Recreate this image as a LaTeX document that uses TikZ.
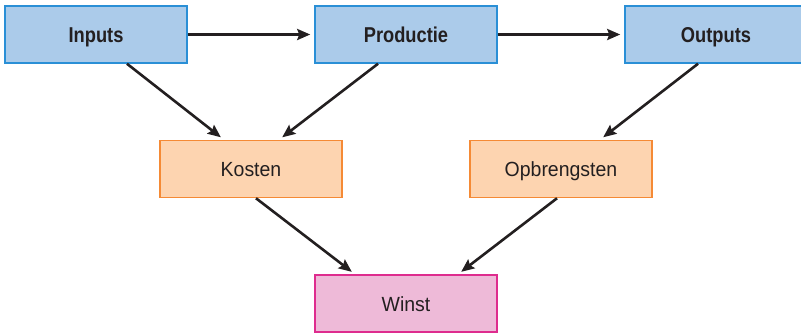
\documentclass[tikz,border=0pt]{standalone}
\usepackage{fontspec}
\setmainfont{Liberation Sans}
\newfontfamily\narrowbold{Liberation Sans}[FakeStretch=0.85]
\newfontfamily\narrowreg{Liberation Sans}[FakeStretch=0.95]
\usetikzlibrary{arrows.meta}
\definecolor{bluefill}{HTML}{ABCBEA}
\definecolor{blueline}{HTML}{2A8FD6}
\definecolor{orfill}{HTML}{FDD4B0}
\definecolor{orline}{HTML}{F58A35}
\definecolor{pkfill}{HTML}{EEBAD8}
\definecolor{pkline}{HTML}{DE2C8E}
\definecolor{txt}{HTML}{231F20}
\tikzset{
  box/.style={draw, line width=1.5pt, minimum width=182pt, minimum height=57pt,
    inner sep=0pt, text height=15pt, text depth=0pt, text=txt, font=\narrowreg\fontsize{20.5}{24}\selectfont},
  bluebox/.style={box, fill=bluefill, draw=blueline, font=\narrowbold\bfseries\fontsize{21.5}{24}\selectfont},
  orbox/.style={box, fill=orfill, draw=orline},
  pkbox/.style={box, fill=pkfill, draw=pkline},
  conn/.style={draw=txt, line width=2.6pt, shorten >=4pt, -{Stealth[length=13pt,width=11pt,inset=2pt]}}
}
\begin{document}
\begin{tikzpicture}[x=1pt,y=-1pt]
\clip (0,0) rectangle (801,333);
\node[bluebox] (inp) at (96,34.5) {Inputs};
\node[bluebox] (prod) at (406,34.5) {Productie};
\node[bluebox] (out) at (716,34.5) {Outputs};
\node[orbox] (kos) at (251,169) {Kosten};
\node[orbox] (opb) at (561,169) {Opbrengsten};
\node[pkbox] (win) at (406,303.5) {Winst};
\draw[conn] (inp.east) -- (prod.west);
\draw[conn] (prod.east) -- (out.west);
\draw[conn] ([xshift=31pt]inp.south) -- ([xshift=-27pt]kos.north);
\draw[conn] ([xshift=-28pt]prod.south) -- ([xshift=28pt]kos.north);
\draw[conn] ([xshift=-18pt]out.south) -- ([xshift=39pt]opb.north);
\draw[conn] ([xshift=5pt]kos.south) -- ([xshift=-51pt]win.north);
\draw[conn] ([xshift=-4pt]opb.south) -- ([xshift=52pt]win.north);
\end{tikzpicture}
\end{document}
